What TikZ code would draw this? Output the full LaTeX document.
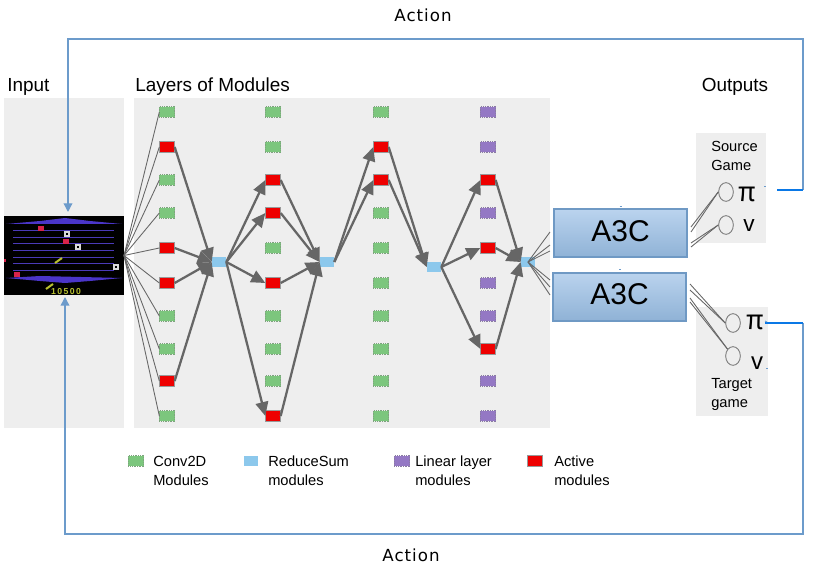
\documentclass[tikz,border=0pt]{standalone}
\usepackage{fontspec}
\setmainfont{Liberation Sans}
\newfontfamily\gothic[LetterSpace=6]{DejaVu Sans}
\newfontfamily\cjkjp{Noto Sans CJK JP}
\usetikzlibrary{arrows.meta,shapes.geometric}
\definecolor{panelgray}{HTML}{EEEEEE}
\definecolor{edgegray}{HTML}{666666}
\definecolor{convgreen}{HTML}{7CC67D}
\definecolor{lineviolet}{HTML}{9478C4}
\definecolor{sumblue}{HTML}{8CC8EC}
\definecolor{activered}{HTML}{EE0000}
\definecolor{feedback}{HTML}{6C9BCB}
\definecolor{feedbright}{HTML}{0A78E6}
\definecolor{a3ctop}{HTML}{BAD3EE}
\definecolor{a3cbot}{HTML}{8FB2D6}
\definecolor{a3cedge}{HTML}{6F99C4}
\definecolor{lanecol}{HTML}{4A3AB8}
\definecolor{crest}{HTML}{4A35C8}
\definecolor{sprite}{HTML}{D8234A}
\definecolor{olivey}{HTML}{B8C030}
\tikzset{
  x=0.75pt, y=-0.75pt,
  module/.style={minimum width=11.5pt, minimum height=8pt, inner sep=0pt, outer sep=0pt},
  conv/.style={module, fill=convgreen, draw=gray!50!convgreen, densely dotted, line width=0.3pt},
  linear/.style={module, fill=lineviolet, draw=gray!50!lineviolet, densely dotted, line width=0.3pt},
  active/.style={module, fill=activered, draw=gray!80, line width=0.7pt},
  sumnode/.style={minimum width=11pt, minimum height=8pt, inner sep=0pt, outer sep=0pt, fill=sumblue},
  panel/.style={fill=panelgray, draw=none},
  thin edge/.style={draw=edgegray, line width=0.65pt},
  flow/.style={draw=edgegray, line width=1.7pt, -{Triangle[length=10.5pt,width=9.5pt]}},
  a3c/.style={draw=a3cedge, line width=1.5pt, top color=a3ctop, bottom color=a3cbot,
    minimum width=100pt, minimum height=36pt, inner sep=0pt, font=\fontsize{22.5}{25}\selectfont},
  outcircle/.style={ellipse, draw=gray, fill=panelgray, line width=0.7pt, minimum width=11pt, minimum height=14pt, inner sep=0pt},
  heading/.style={font=\fontsize{14.2}{16}\selectfont},
  small/.style={font=\fontsize{11}{14.2}\selectfont, align=left, anchor=north west, inner sep=0pt},
  actionlabel/.style={font=\gothic\fontsize{12.5}{14}\selectfont},
  backline/.style={draw=feedback, line width=1pt},
  brightline/.style={draw=feedbright, line width=1.6pt},
  backarrow/.style={backline, -{Triangle[length=6.5pt,width=6.5pt]}},
  lane/.style={draw=lanecol, line width=0.75pt},
  tick/.style={draw=feedback, line width=0.6pt},
}
\begin{document}
\begin{tikzpicture}
\useasboundingbox (0,0) rectangle (814,573);

% background panels
\fill[panel] (4,98) rectangle (124,428);
\fill[panel] (134,98) rectangle (550,428);
\fill[panel] (696,133) rectangle (766,243);
\fill[panel] (696,307) rectangle (768,416);

% headings
\node[heading, anchor=west, inner sep=0pt] (hinput) at (7,87) {Input};
\node[heading, anchor=west, inner sep=0pt] (hlayers) at (135,87) {Layers of Modules};
\node[heading, inner sep=0pt] (houtputs) at (735,87) {Outputs};
\node[actionlabel] (actop) at (423,15) {Action};
\node[actionlabel] (acbot) at (411,555) {Action};

% game frame
\node[fill=black, minimum width=90pt, minimum height=59.25pt, inner sep=0pt, outer sep=0pt] (game) at (64,255.5) {};
\fill[crest] (6,224) -- (40,221) -- (65,218) -- (90,221) -- (122,224) -- cycle;
\fill[crest] (6,278) -- (40,276) -- (122,278) -- (90,281) -- (65,283) -- (40,281) -- cycle;
\foreach \yy in {231,238,244,251,258,264,271}
  \draw[lane] (13,\yy) -- (114,\yy);
\fill[sprite] (38,226) rectangle (44,231);
\fill[sprite] (63,239) rectangle (69,244);
\fill[sprite] (14,272) rectangle (20,277);
\fill[sprite] (4,259) rectangle (6,262);
\foreach \xx/\yy in {67/234,78/247,116/267}
  \draw[gray!30, fill=black, line width=0.9pt] (\xx-2,\yy-2) rectangle (\xx+2,\yy+2);
\draw[olivey, line width=1.5pt] (55,263) -- (62,258);
\draw[olivey, line width=1.5pt] (46,289) -- (53,284);
\node[text=olivey, font=\bfseries\fontsize{6.5}{7}\selectfont, inner sep=0pt] (score) at (66,292) {1\,0\,5\,0\,0};

% module columns
\foreach \nm/\yy/\kind in {1/112/conv,2/147/active,3/180/conv,4/213/conv,5/248/active,6/283/active,7/316/conv,8/349/conv,9/381/active,10/416/conv}
  \node[\kind] (a\nm) at (167,\yy) {};
\foreach \nm/\yy/\kind in {1/112/conv,2/147/conv,3/180/active,4/213/active,5/248/conv,6/283/active,7/316/conv,8/349/conv,9/381/conv,10/416/active}
  \node[\kind] (b\nm) at (273,\yy) {};
\foreach \nm/\yy/\kind in {1/112/conv,2/147/active,3/180/active,4/213/conv,5/248/conv,6/283/conv,7/316/conv,8/349/conv,9/381/conv,10/416/conv}
  \node[\kind] (c\nm) at (381,\yy) {};
\foreach \nm/\yy/\kind in {1/112/linear,2/147/linear,3/180/active,4/213/linear,5/248/active,6/283/linear,7/316/linear,8/349/active,9/381/linear,10/416/linear}
  \node[\kind] (d\nm) at (488,\yy) {};

% reduce-sum modules
\node[sumnode] (s1) at (219,262) {};
\node[sumnode] (s2) at (327,262) {};
\node[sumnode] (s3) at (434,267) {};
\node[sumnode] (s4) at (528,262) {};

% input fan-out
\foreach \nm in {1,...,10}
  \draw[thin edge] (game.east) -- (a\nm.west);

% active paths through the layers
\foreach \nm in {2,5,6,9}
  \draw[flow] (a\nm.east) -- (s1.west);
\foreach \nm in {3,4,6,10} {
  \draw[flow] (s1.east) -- (b\nm.west);
  \draw[flow] (b\nm.east) -- (s2.west);
}
\foreach \nm in {2,3} {
  \draw[flow] (s2.east) -- (c\nm.west);
  \draw[flow] (c\nm.east) -- (s3.west);
}
\foreach \nm in {3,5,8} {
  \draw[flow] (s3.east) -- (d\nm.west);
  \draw[flow] (d\nm.east) -- (s4.west);
}

% fan-out towards the policy heads
\foreach \nm/\yy in {p/232,q/245,r/251,t/280,u/287,w/295} {
  \coordinate (fan\nm) at (550,\yy);
  \draw[thin edge] (s4.center) -- (fan\nm);
}

% A3C blocks
\node[a3c] (srcnet) at (620.5,233.5) {\raisebox{4pt}{A3C}};
\node[a3c] (tgtnet) at (619.5,297) {\raisebox{4.5pt}{A3C}};

% source-game outputs
\node[small] (srclabel) at (711,141) {Source\\Game};
\node[outcircle] (srcpi) at (726,192) {};
\node[outcircle] (srcv) at (726,225) {};
\node[font=\cjkjp\fontsize{20}{22}\selectfont, inner sep=0pt] (srcpit) at (747,194) {π};
\node[font=\fontsize{17}{19}\selectfont, inner sep=0pt] (srcvt) at (749,226) {v};

% target-game outputs
\node[outcircle] (tgtpi) at (733,323) {};
\node[outcircle] (tgtv) at (733,356) {};
\node[font=\cjkjp\fontsize{20}{22}\selectfont, inner sep=0pt] (tgtpit) at (755,322) {π};
\node[font=\fontsize{18}{20}\selectfont, inner sep=0pt] (tgtvt) at (757,363) {v};
\node[small] (tgtlabel) at (711,378) {Target\\game};

% doubled leads from the A3C blocks to the heads
\coordinate (sa) at (691,227); \coordinate (sb) at (691,232);
\coordinate (sc) at (691,243); \coordinate (sd) at (691,247);
\coordinate (ta) at (690,284); \coordinate (tb) at (690,290);
\coordinate (tc) at (690,298); \coordinate (td) at (690,302);
\draw[thin edge] (sa) -- (srcpi.west);
\draw[thin edge] (sb) -- (srcpi.west);
\draw[thin edge] (sc) -- (srcv.west);
\draw[thin edge] (sd) -- (srcv.west);
\draw[thin edge] (ta) -- (tgtpi.west);
\draw[thin edge] (tb) -- (tgtpi.west);
\draw[thin edge] (tc) -- (tgtv.north west);
\draw[thin edge] (td) -- (tgtv.north west);

% action feedback loops
\coordinate (srcout) at (777,190);
\coordinate (srccorner) at (803,190);
\coordinate (srctop) at (803,39);
\coordinate (srcleft) at (68,39);
\coordinate (srchead) at (68,212);
\coordinate (tgtout) at (765,323);
\coordinate (tgtcorner) at (803,323);
\coordinate (tgtbot) at (803,534);
\coordinate (tgtleft) at (65,534);
\coordinate (tgthead) at (65,297);
\draw[backarrow] (srccorner) -- (srctop) -- (srcleft) -- (srchead);
\draw[brightline] (srcout) -- (srccorner);
\draw[backarrow] (tgtcorner) -- (tgtbot) -- (tgtleft) -- (tgthead);
\draw[brightline] (tgtout) -- (tgtcorner);

% small connection marks on the blocks and panels
\draw[tick] (619.5,206.5) -- (621.5,206.5);
\draw[tick] (619,269) -- (621,269);
\draw[tick] (764,186) -- (766,186);
\draw[tick] (765,321) -- (767,322);
\draw[tick] (766,368) -- (768,368);

% legend
\node[conv] (kconv) at (136,461) {};
\node[small] (tconv) at (153,456) {Conv2D\\Modules};
\node[sumnode, minimum width=10.5pt] (ksum) at (251,461) {};
\node[small] (tsum) at (268,456) {ReduceSum\\modules};
\node[linear] (klin) at (402,461) {};
\node[small] (tlin) at (415,456) {Linear layer\\modules};
\node[active] (kact) at (535,461) {};
\node[small] (tact) at (554,456) {Active\\modules};
\end{tikzpicture}
\end{document}
